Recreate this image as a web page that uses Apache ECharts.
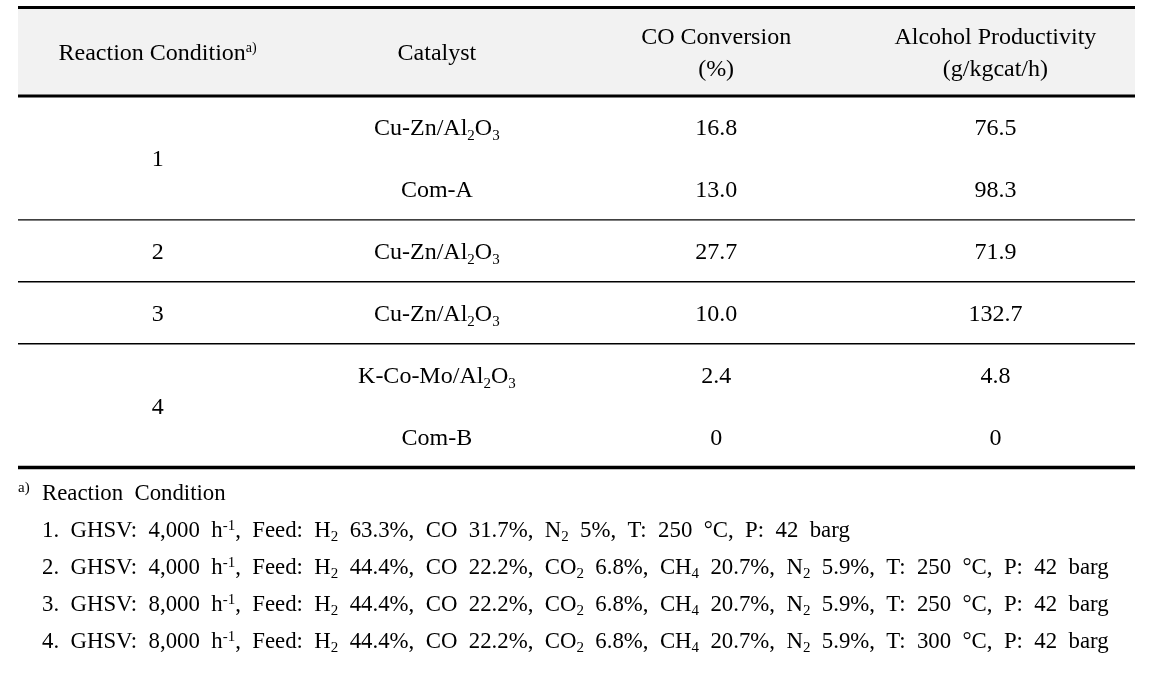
<!DOCTYPE html>
<html><head><meta charset="utf-8">
<script src="https://cdn.jsdelivr.net/npm/echarts@6/dist/echarts.min.js"></script>
<style>html,body{margin:0;padding:0;background:#fff}#chart{width:1163px;height:690px}</style>
</head><body><div id="chart"></div>
<script>
// ---- data ----
const columns = ['Reaction Condition', 'Catalyst', 'CO Conversion', 'Alcohol Productivity'];
const headerLabels = ['Reaction Condition{sup|a)}', 'Catalyst', 'CO Conversion\n(%)', 'Alcohol Productivity\n(g/kgcat/h)'];
const conditions = ['1', '2', '3', '4'];
const conditionRows = [[1, 2], [3], [4], [5, 6]];
const catalysts = ['Cu-Zn/Al{sub|2}O{sub|3}', 'Com-A', 'Cu-Zn/Al{sub|2}O{sub|3}', 'Cu-Zn/Al{sub|2}O{sub|3}', 'K-Co-Mo/Al{sub|2}O{sub|3}', 'Com-B'];
const coConversion = [16.8, 13.0, 27.7, 10.0, 2.4, 0];
const alcoholProductivity = [76.5, 98.3, 71.9, 132.7, 4.8, 0];
const footnoteTitle = 'Reaction Condition';
const footnotes = [
  '1. GHSV: 4,000 h{sup|-1}, Feed: H{sub|2} 63.3%, CO 31.7%, N{sub|2} 5%, T: 250 °C, P: 42 barg',
  '2. GHSV: 4,000 h{sup|-1}, Feed: H{sub|2} 44.4%, CO 22.2%, CO{sub|2} 6.8%, CH{sub|4} 20.7%, N{sub|2} 5.9%, T: 250 °C, P: 42 barg',
  '3. GHSV: 8,000 h{sup|-1}, Feed: H{sub|2} 44.4%, CO 22.2%, CO{sub|2} 6.8%, CH{sub|4} 20.7%, N{sub|2} 5.9%, T: 250 °C, P: 42 barg',
  '4. GHSV: 8,000 h{sup|-1}, Feed: H{sub|2} 44.4%, CO 22.2%, CO{sub|2} 6.8%, CH{sub|4} 20.7%, N{sub|2} 5.9%, T: 300 °C, P: 42 barg'
];

// ---- layout helpers ----
const FONT = 'Liberation Serif';
const INK = '#000';
const HEADER_ROWS = 1.43;            // header height, in data-row units
const Y_MIN = 0.5 - HEADER_ROWS;
const Y_MAX = 6.5;
const TEXT_DY = 2;
const WIDE = s => s.replace(/ /g, '\u2002');   // wide word spacing of the original typesetting
const fmt = v => (v === 0 ? '0' : v.toFixed(1));

// cells
const cellData = [];
const cellTexts = [];
conditions.forEach((c, i) => {
  const rows = conditionRows[i];
  const mid = rows.reduce((a, b) => a + b, 0) / rows.length;
  cellData.push([0, mid]); cellTexts.push(c);
});
catalysts.forEach((c, i) => {
  const r = i + 1;
  cellData.push([1, r]); cellTexts.push(c);
  cellData.push([2, r]); cellTexts.push(fmt(coConversion[i]));
  cellData.push([3, r]); cellTexts.push(fmt(alcoholProductivity[i]));
});
// header
const headerData = headerLabels.map((h, i) => [i, (Y_MIN + 0.5) / 2]);

// rules: [x, yValue, lineWidth]
const ruleData = [[0, Y_MIN, 3], [0, 0.5, 3]];
let acc = 0;
conditionRows.forEach((rows, i) => {
  acc += rows.length;
  if (i < conditionRows.length - 1) ruleData.push([0, acc + 0.5, 1.4]);
});
ruleData.push([0, Y_MAX, 3.5]);

const baseRich = {
  sub: { fontFamily: FONT, fontSize: 15, lineHeight: 17, verticalAlign: 'bottom', fill: INK },
  sup: { fontFamily: FONT, fontSize: 14, lineHeight: 16, verticalAlign: 'top', padding: [4, 0, 0, 0], fill: INK }
};

const chart = echarts.init(document.getElementById('chart'), null, { renderer: 'canvas' });
chart.setOption({
  animation: false,
  backgroundColor: '#fff',
  grid: { left: 18, right: 28, top: 7.5, height: 460, containLabel: false },
  xAxis: { type: 'category', data: columns, show: false },
  yAxis: { type: 'value', min: Y_MIN, max: Y_MAX, inverse: true, show: false },
  title: {
    left: 18, top: 475.5, padding: 0,
    text: ['{supa|a)}' + WIDE(footnoteTitle)].concat(footnotes.map(f => '{ind| }' + WIDE(f))).join('\n'),
    textStyle: {
      fontFamily: FONT, fontSize: 22.8, fontWeight: 'normal', color: INK, lineHeight: 37,
      rich: {
        supa: { fontFamily: FONT, fontSize: 15, verticalAlign: 'top', padding: [5, 0, 0, 0], width: 24, color: INK },
        ind: { fontFamily: FONT, fontSize: 22.8, width: 24 },
        sub: { fontFamily: FONT, fontSize: 15, verticalAlign: 'bottom', padding: [0, 0, 5, 0], color: INK },
        sup: { fontFamily: FONT, fontSize: 15, verticalAlign: 'top', padding: [6, 0, 0, 0], color: INK }
      }
    }
  },
  series: [
    {
      type: 'custom', name: 'headerBg', z: 1,
      data: [[0, Y_MIN]],
      encode: { x: 0, y: 1 },
      renderItem: (params, api) => {
        const cs = params.coordSys;
        const y0 = api.coord([0, Y_MIN])[1];
        const y1 = api.coord([0, 0.5])[1];
        return { type: 'rect', shape: { x: cs.x, y: y0, width: cs.width, height: y1 - y0 }, style: { fill: '#f2f2f2' } };
      }
    },
    {
      type: 'custom', name: 'rules', z: 3,
      data: ruleData,
      encode: { x: 0, y: 1 },
      renderItem: (params, api) => {
        const cs = params.coordSys;
        const y = api.coord([0, api.value(1)])[1];
        return { type: 'line', shape: { x1: cs.x, y1: y, x2: cs.x + cs.width, y2: y }, style: { stroke: '#000', lineWidth: api.value(2) } };
      }
    },
    {
      type: 'custom', name: 'header', z: 4,
      data: headerData,
      encode: { x: 0, y: 1 },
      renderItem: (params, api) => {
        const p = api.coord([api.value(0), api.value(1)]);
        return { type: 'text', x: p[0], y: p[1] + TEXT_DY, style: {
          text: headerLabels[params.dataIndex], fontFamily: FONT, fontSize: 24, lineHeight: 32,
          align: 'center', verticalAlign: 'middle', fill: INK, rich: baseRich } };
      }
    },
    {
      type: 'custom', name: 'cells', z: 4,
      data: cellData,
      encode: { x: 0, y: 1 },
      renderItem: (params, api) => {
        const p = api.coord([api.value(0), api.value(1)]);
        return { type: 'text', x: p[0], y: p[1] + TEXT_DY, style: {
          text: cellTexts[params.dataIndex], fontFamily: FONT, fontSize: 24, lineHeight: 30,
          align: 'center', verticalAlign: 'middle', fill: INK, rich: baseRich } };
      }
    }
  ]
});
</script></body></html>
